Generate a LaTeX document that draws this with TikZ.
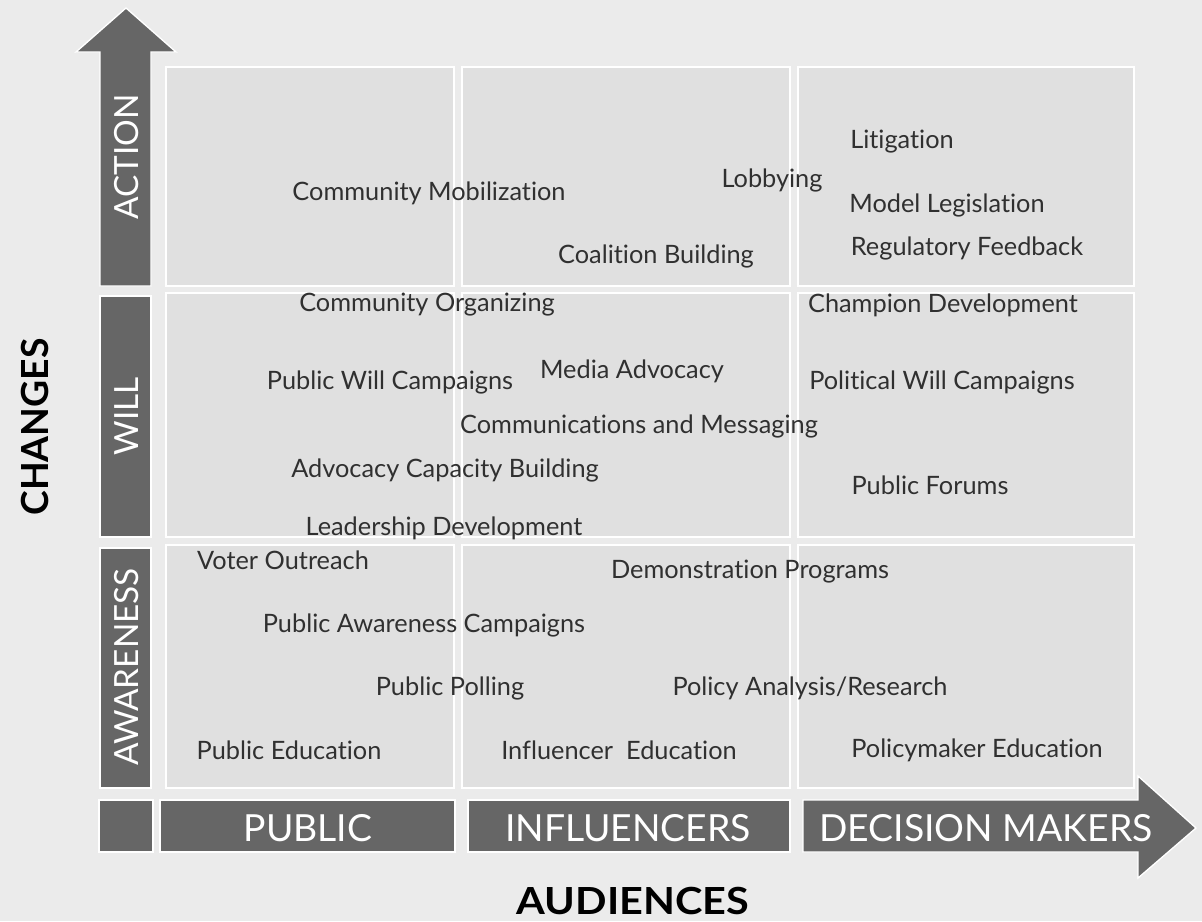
\documentclass[tikz,border=0pt]{standalone}
\usepackage{fontspec}
\setmainfont{Lato}[Ligatures=NoCommon]
\definecolor{bggray}{HTML}{EBEBEB}
\definecolor{cellgray}{HTML}{E0E0E0}
\definecolor{bargray}{HTML}{666666}
\definecolor{txtgray}{HTML}{303030}
\begin{document}
\begin{tikzpicture}[x=0.75pt, y=-0.75pt,
  cell/.style={draw=white, fill=cellgray, line width=1.5pt},
  bar/.style={draw=white, fill=bargray, line width=1pt},
  item/.style={font=\fontsize{19}{22}\selectfont, text=txtgray, inner sep=0pt},
  head/.style={font=\fontsize{28}{32}\selectfont, text=white, inner sep=0pt},
  vhead/.style={head, font=\fontsize{25}{30}\selectfont, rotate=90},
  axis/.style={font=\fontsize{28}{32}\selectfont\bfseries, text=black, inner sep=0pt}]

\useasboundingbox[fill=bggray] (0,0) rectangle (1202,921);

% grid
\foreach \xa/\xb in {166/454, 462/790, 798/1134}
  \foreach \ya/\yb in {67/286, 293/537, 545/788}
    \draw[cell] (\xa,\ya) rectangle (\xb,\yb);

% vertical arrow
\draw[bar] (100,286) -- (100,52) -- (76,52) -- (126,8) -- (176,52) -- (151,52) -- (151,286) -- cycle;
\draw[bar] (100,296) rectangle (151,537);
\draw[bar] (100,548) rectangle (151,788);

% horizontal arrow
\draw[bar] (99,800) rectangle (153,852);
\draw[bar] (160,800) rectangle (455,852);
\draw[bar] (468,800) rectangle (790,852);
\draw[bar] (803,800) -- (1138,800) -- (1138,776) -- (1196,828) -- (1138,878) -- (1138,852) -- (803,852) -- cycle;

% axis labels
\node[vhead] (action) at (127,157) {ACTION};
\node[vhead] (will) at (127,416) {WILL};
\node[vhead] (awareness) at (127,667) {AWARENESS};
\node[head] (public) at (308,828) {PUBLIC};
\node[head] (influencers) at (628,828) {INFLUENCERS};
\node[head] (decision) at (986,828) {DECISION MAKERS};
\node[axis, rotate=90] (changes) at (35,427) {CHANGES};
\node[axis, xscale=1.11] (audiences) at (633,901) {AUDIENCES};

% action row
\node[item] (mobilization) at (429,193) {Community Mobilization};
\node[item] (lobbying) at (772,180) {Lobbying};
\node[item] (litigation) at (902,142) {Litigation};
\node[item] (legislation) at (947,205) {Model Legislation};
\node[item] (feedback) at (967,248) {Regulatory Feedback};
\node[item] (coalition) at (656,256) {Coalition Building};

% will row
\node[item] (organizing) at (427,305) {Community Organizing};
\node[item] (champion) at (943,305) {Champion Development};
\node[item] (publicwill) at (390,382) {Public Will Campaigns};
\node[item] (media) at (632,371) {Media Advocacy};
\node[item] (politicalwill) at (942,382) {Political Will Campaigns};
\node[item] (messaging) at (639,426) {Communications and Messaging};
\node[item] (capacity) at (445,470) {Advocacy Capacity Building};
\node[item] (forums) at (930,485) {Public Forums};
\node[item] (leadership) at (444,528) {Leadership Development};

% awareness row
\node[item] (voter) at (283,560) {Voter Outreach};
\node[item] (demonstration) at (750,572) {Demonstration Programs};
\node[item] (awarenesscamp) at (424,625) {Public Awareness Campaigns};
\node[item] (polling) at (450,688) {Public Polling};
\node[item] (analysis) at (810,688) {Policy Analysis/Research};
\node[item] (pubedu) at (289,750) {Public Education};
\node[item] (infedu) at (619,750) {Influencer\ \ Education};
\node[item] (poledu) at (977,750) {Policymaker Education};

\end{tikzpicture}
\end{document}
